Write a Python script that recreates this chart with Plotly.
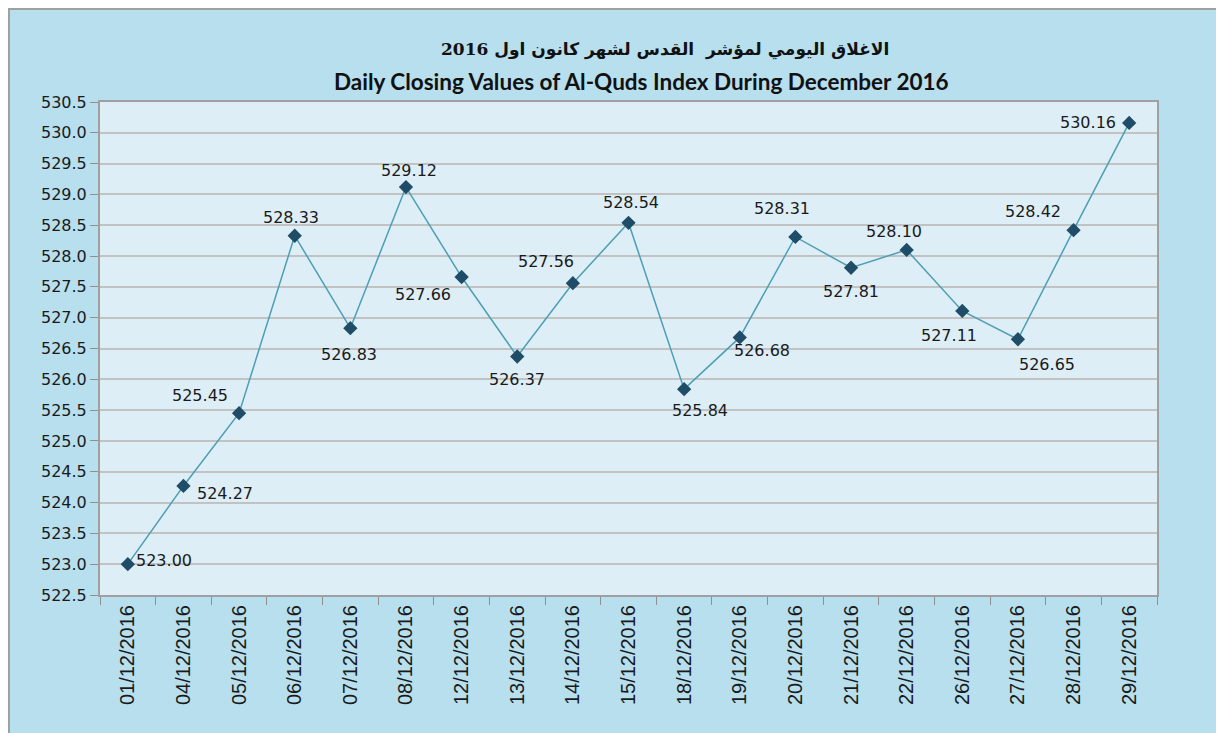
import plotly.graph_objects as go

dates = ["01/12/2016", "04/12/2016", "05/12/2016", "06/12/2016", "07/12/2016",
         "08/12/2016", "12/12/2016", "13/12/2016", "14/12/2016", "15/12/2016",
         "18/12/2016", "19/12/2016", "20/12/2016", "21/12/2016", "22/12/2016",
         "26/12/2016", "27/12/2016", "28/12/2016", "29/12/2016"]
closing = [523.00, 524.27, 525.45, 528.33, 526.83, 529.12, 527.66, 526.37, 527.56,
           528.54, 525.84, 526.68, 528.31, 527.81, 528.10, 527.11, 526.65, 528.42, 530.16]

# label offsets in pixels (dx right, dy down)
label_dx = [36, 42, -39, -4, -1, 3, -39, 0, -27, 2, 16, 22, -13, 0, -13, -13, 29, -41, -41]
label_dy = [-4, 8, -18, -18, 26, -17, 17, 23, -22, -20, 21, 13, -28, 24, -18, 25, 25, -19, 0]

title_ar = "الاغلاق اليومي لمؤشر  القدس لشهر كانون اول 2016"
title_en = "Daily Closing Values of Al-Quds Index During December 2016"

OFF = 8  # page body margin
L, R, T, B = 100 - OFF, 1157 - OFF, 102 - OFF, 595 - OFF
W, H = 1224 - OFF, 733 - OFF + 2
pw, ph = R - L, B - T

fig = go.Figure()
fig.add_trace(go.Scatter(
    x=dates, y=closing, mode="lines+markers",
    line=dict(color="#4C9FB3", width=1.5),
    marker=dict(symbol="diamond", size=11, color="#1F4C66"),
    hoverinfo="x+y", showlegend=False,
))

for d, v, dx, dy in zip(dates, closing, label_dx, label_dy):
    fig.add_annotation(x=d, y=v, text=f"{v:.2f}", showarrow=False,
                       xshift=dx, yshift=-dy,
                       font=dict(family="DejaVu Sans", size=16, color="#1a1a1a"))

fig.add_annotation(xref="paper", yref="paper", x=(665 - OFF - L) / pw, y=(B - (50 - OFF)) / ph,
                   xanchor="center", yanchor="middle",
                   text=f"<b>{title_ar}</b>", showarrow=False,
                   font=dict(family="DejaVu Serif, DejaVu Sans", size=17, color="#111111"))
fig.add_annotation(xref="paper", yref="paper", x=(641 - OFF - L) / pw, y=(B - (82 - OFF)) / ph,
                   xanchor="center", yanchor="middle",
                   text=f"<b>{title_en}</b>", showarrow=False,
                   font=dict(family="Lato, Open Sans", size=22.5, color="#111111"))

# outer frame lines (left and top)
fig.add_shape(type="line", xref="paper", yref="paper",
              x0=(1 - L) / pw, x1=(1 - L) / pw, y0=(B - H) / ph, y1=(B - 0) / ph,
              line=dict(color="#A0A0A0", width=2))
fig.add_shape(type="line", xref="paper", yref="paper",
              x0=(0 - L) / pw, x1=(W - L) / pw, y0=(B - 1) / ph, y1=(B - 1) / ph,
              line=dict(color="#A0A0A0", width=2))

fig.update_layout(
    width=W, height=H,
    margin=dict(l=L, r=W - R, t=T, b=H - B, autoexpand=False),
    paper_bgcolor="#B7DFEE",
    plot_bgcolor="#DEEEF7",
    font=dict(family="DejaVu Sans", color="#1a1a1a"),
)
fig.update_xaxes(
    type="category", tickangle=-90, tickson="boundaries", range=[-0.5, len(dates) - 0.5],
    ticks="outside", ticklen=8, tickcolor="#909090",
    showline=True, linecolor="#A0A0A0", linewidth=2, mirror=True,
    showgrid=False,
    tickfont=dict(family="Liberation Sans, Arial", size=20, color="#1a1a1a"),
)
fig.update_yaxes(
    range=[522.5, 530.5], dtick=0.5, tickformat=".1f",
    ticks="outside", ticklen=8, tickcolor="#909090",
    showline=True, linecolor="#A0A0A0", linewidth=2, mirror=True,
    showgrid=True, gridcolor="#C2C2C2", gridwidth=1.5,
    tickfont=dict(family="DejaVu Sans", size=16, color="#1a1a1a"),
    zeroline=False,
)

fig.write_html("out.html")
